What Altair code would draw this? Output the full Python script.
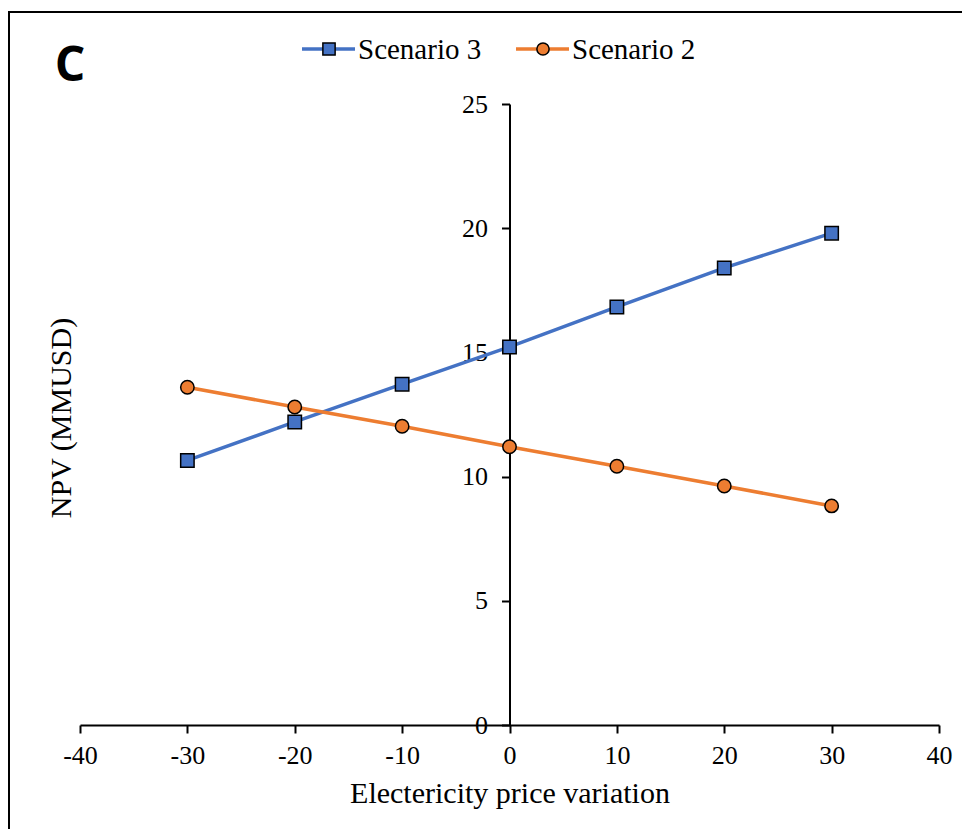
import altair as alt
import pandas as pd

# ---- data ----
price_variation = [-30, -20, -10, 0, 10, 20, 30]
scenario3_npv = [10.65, 12.2, 13.72, 15.22, 16.83, 18.4, 19.8]
scenario2_npv = [13.6, 12.8, 12.03, 11.2, 10.42, 9.62, 8.82]
series_names = ["Scenario 3", "Scenario 2"]
series_colors = ["#4472C4", "#ED7D31"]
series_shapes = ["square", "circle"]
x_ticks = [-40, -30, -20, -10, 0, 10, 20, 30, 40]
y_ticks = [0, 5, 10, 15, 20, 25]

rows = []
for x, v in zip(price_variation, scenario3_npv):
    rows.append({"x": x, "npv": v, "series": series_names[0]})
for x, v in zip(price_variation, scenario2_npv):
    rows.append({"x": x, "npv": v, "series": series_names[1]})
df = pd.DataFrame(rows)

W, H = 859, 621
SERIF = "Liberation Serif"

xenc = alt.X(
    "x:Q",
    scale=alt.Scale(domain=[-40, 40], nice=False),
    axis=alt.Axis(
        values=x_ticks,
        title="Electericity price variation",
        grid=False,
        labelFlush=False,
        labelPadding=9,
        titlePadding=10,
        labelExpr="datum.value < 0 ? '-' + abs(datum.value) : '' + datum.value",
    ),
)
yenc = alt.Y(
    "npv:Q",
    scale=alt.Scale(domain=[0, 25], nice=False),
    axis=alt.Axis(values=y_ticks, title=None, grid=False, offset=-W / 2, labelPadding=14),
)
color_scale = alt.Scale(domain=series_names, range=series_colors)
shape_scale = alt.Scale(domain=series_names, range=series_shapes)

base = alt.Chart(df)

lines = base.mark_line(strokeWidth=3.5).encode(
    x=xenc,
    y=yenc,
    color=alt.Color("series:N", scale=color_scale, legend=None),
    order="x:Q",
)
points = base.mark_point(filled=True, size=180, stroke="black", strokeWidth=1.5, opacity=1).encode(
    x="x:Q",
    y="npv:Q",
    fill=alt.Fill("series:N", scale=color_scale, legend=None),
    shape=alt.Shape("series:N", scale=shape_scale, legend=None),
)

one = alt.Data(values=[{}])

frame = alt.Chart(one).mark_rect(fillOpacity=0, stroke="black", strokeWidth=2).encode(
    x=alt.value(-71), x2=alt.value(1100), y=alt.value(-92), y2=alt.value(1000)
)

# manual legend (line + marker + label) above the plot
legend_layers = []
leg_x = [222, 436]
for i, name in enumerate(series_names):
    lx = leg_x[i]
    legend_layers.append(
        alt.Chart(one).mark_rule(strokeWidth=3.5, color=series_colors[i]).encode(
            x=alt.value(lx), x2=alt.value(lx + 53), y=alt.value(-55)
        )
    )
    legend_layers.append(
        alt.Chart(one).mark_point(
            filled=True, size=150, shape=series_shapes[i], fill=series_colors[i],
            stroke="black", strokeWidth=1.5, opacity=1
        ).encode(x=alt.value(lx + 27), y=alt.value(-55))
    )
    legend_layers.append(
        alt.Chart(one).mark_text(
            text=name, font=SERIF, fontSize=29, align="left", baseline="middle", color="black"
        ).encode(x=alt.value(lx + 56), y=alt.value(-54))
    )

ytitle = alt.Chart(one).mark_text(
    text="NPV (MMUSD)", font=SERIF, fontSize=30, angle=270, align="center", baseline="middle", color="black"
).encode(x=alt.value(-18), y=alt.value(314))

panel_label = alt.Chart(one).mark_text(
    text="C", font="Open Sans", fontWeight="bold", fontSize=48, align="center", baseline="middle", color="black"
).encode(x=alt.value(-10), y=alt.value(-37))

chart = alt.layer(frame, lines, points, *legend_layers, ytitle, panel_label).properties(
    width=W,
    height=H,
    autosize=alt.AutoSizeParams(type="none"),
    padding={"left": 72, "top": 96, "right": 23, "bottom": 104},
).configure_view(strokeWidth=0).configure_axis(
    domainColor="black",
    domainWidth=2,
    tickColor="black",
    tickWidth=2,
    tickSize=8,
    labelFont=SERIF,
    labelFontSize=26,
    labelColor="black",
    titleFont=SERIF,
    titleFontSize=30,
    titleFontWeight="normal",
    titleColor="black",
)

chart.save("out.html", embed_options={"renderer": "svg", "actions": False})
